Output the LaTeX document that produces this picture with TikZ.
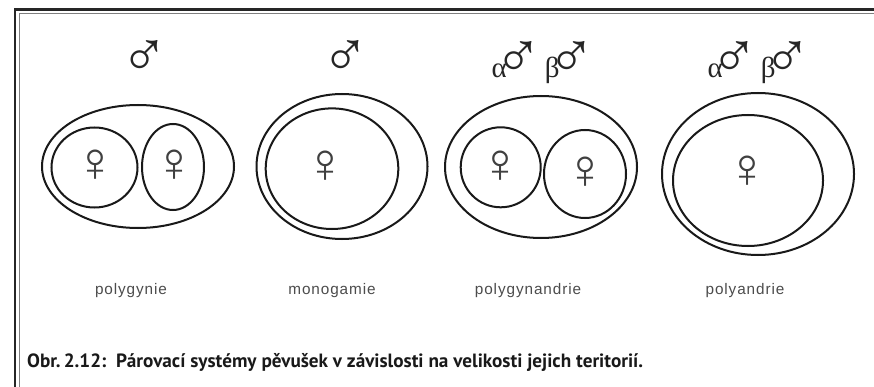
\documentclass[tikz,border=0pt]{standalone}
\usepackage{fontspec}
\setmainfont{Liberation Sans}
\newfontfamily\symfont{Liberation Sans}
\newfontfamily\greekfont{Liberation Serif}
\newfontfamily\labfont[LetterSpace=6]{Liberation Sans}
\newfontfamily\capfont{PT Sans}
% sign glyphs set in a box as wide as their ink, without the wide side bearings
\newcommand\signbox[2]{\makebox[#1][c]{#2}}
\newcommand\malesign[1][21pt]{\signbox{#1}{\symfont\fontsize{64}{64}\selectfont ♂}}
\newcommand\rankedmales{α\malesign[24pt]\hspace{14pt}β\malesign[24pt]}
\begin{document}
\begin{tikzpicture}[x=1pt,y=-1pt,
  ring/.style={line width=2pt,draw=black!90},
  female/.style={font=\symfont\fontsize{56}{56}\selectfont,text=black!75,inner sep=0pt,anchor=base},
  male/.style={text=black!85,inner sep=0pt,anchor=base},
  greek/.style={font=\greekfont\fontsize{29}{29}\selectfont,text=black!85,inner sep=0pt,anchor=base west},
  label/.style={font=\labfont\fontsize{15.3}{16}\selectfont,text=black!70,inner sep=0pt},
  caption/.style={font=\capfont\bfseries\fontsize{19.2}{19.2}\selectfont,text=black!90,inner sep=0pt,anchor=west}]
\useasboundingbox (0,0) rectangle (874,387);
\fill[white] (0,0) rectangle (874,387);

% double frame rule, top and left
\draw[line width=2.4pt,black!85] (874,9.5) -- (15,9.5) -- (15,387);
\draw[line width=0.9pt,black!50] (874,13) -- (19,13) -- (19,387);

% polygynie
\draw[ring] (138,166.5) ellipse [x radius=96pt,y radius=61.5pt];
\draw[ring] (94.5,167.5) ellipse [x radius=43pt,y radius=40pt];
\draw[ring] (173,167) ellipse [x radius=31pt,y radius=43pt];
\node[male] (m1) at (144,77) {\malesign};
\node[female] (f1a) at (95,182) {\signbox{14pt}{♀}};
\node[female] (f1b) at (174,182) {\signbox{14pt}{♀}};
\node[label] (l1) at (131,291) {polygynie};

% monogamie
\draw[ring] (342,166.5) ellipse [x radius=85.5pt,y radius=72.5pt];
\draw[ring] (332,168.7) ellipse [x radius=66.3pt,y radius=60.3pt];
\node[male] (m2) at (345,77) {\malesign};
\node[female] (f2) at (325,183) {\signbox{14pt}{♀}};
\node[label] (l2) at (332,291) {monogamie};

% polygynandrie
\draw[ring] (541,167) ellipse [x radius=96pt,y radius=71pt];
\draw[ring] (500.7,167.3) ellipse [x radius=40pt,y radius=40pt];
\draw[ring] (585,174) ellipse [x radius=41pt,y radius=44pt];
\node[greek] (m3) at (491.5,77.5) {\rankedmales};
\node[female] (f3a) at (500,183) {\signbox{14pt}{♀}};
\node[female] (f3b) at (585,189) {\signbox{14pt}{♀}};
\node[label] (l3) at (528,291) {polygynandrie};

% polyandrie
\draw[ring] (758,174) ellipse [x radius=96pt,y radius=81pt];
\draw[ring] (748,180.5) ellipse [x radius=75pt,y radius=65.5pt];
\node[greek] (m4) at (707.5,77.5) {\rankedmales};
\node[female] (f4) at (747,188) {\signbox{14pt}{♀}};
\node[label] (l4) at (745,291) {polyandrie};

% caption
\node[caption] (cap) at (27,362) {Obr.\,2.12:\ \ Párovací systémy pěvušek v závislosti na velikosti jejich teritorií.};
\end{tikzpicture}
\end{document}
